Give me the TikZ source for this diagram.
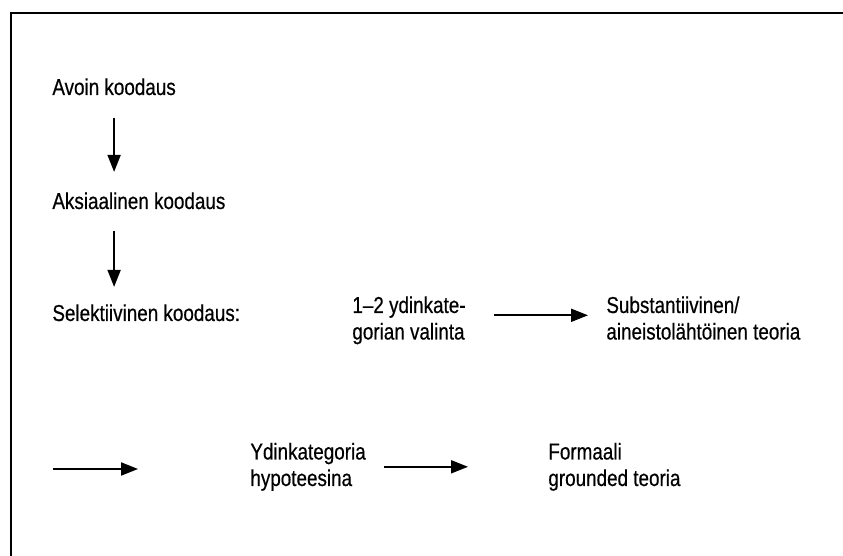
\documentclass[tikz,border=0pt]{standalone}
\usepackage{fontspec}
\setmainfont{Liberation Sans}[FakeStretch=0.82, FakeBold=0.5]
\usetikzlibrary{arrows.meta,positioning}

\begin{document}
\begin{tikzpicture}[
  x=0.5pt, y=-0.5pt,
  font=\fontsize{11.5pt}{13.25pt}\selectfont,
  lbl/.style={inner sep=0pt, anchor=base west, align=left},
  ar/.style={-{Triangle[length=8.5pt, width=6.5pt]}, line width=0.9pt},
  rule/.style={line width=0.9pt}
]
\useasboundingbox (0,0) rectangle (843,556);
% frame, open to the right and bottom
\draw[rule] (11,556) -- (11,13) -- (843,13);

% coding steps
\node[lbl] (avoin) at (52,95) {Avoin koodaus};
\node[lbl] (aks) at (52,209) {Aksiaalinen koodaus};
\node[lbl] (sel) at (52,321) {Selektiivinen koodaus:};
\node[lbl] (valinta) at (352,339.5) {1--2 ydinkate-\\gorian valinta};
\node[lbl] (subst) at (606,339.5) {Substantiivinen/\\aineistolähtöinen teoria};

% second row
\coordinate (jatko) at (53,469);
\node[lbl] (ydin) at (250,486) {Ydinkategoria\\hypoteesina};
\node[lbl] (formaali) at (548,486) {Formaali\\grounded teoria};

\draw[ar, shorten <=11pt, shorten >=10pt] (avoin.south) -- (avoin.south |- aks.north);
\draw[ar, shorten <=10.5pt, shorten >=8.5pt] (avoin.south |- aks.south) -- (avoin.south |- sel.north);
\draw[ar, shorten <=14pt, shorten >=9pt] ([yshift=2.5pt]valinta.east) -- ([yshift=2.5pt]valinta.east -| subst.west);
\draw[ar, shorten >=56pt] (jatko) -- (jatko -| ydin.west);
\draw[ar, shorten <=9pt, shorten >=40pt] (ydin.east) -- (ydin.east -| formaali.west);
\end{tikzpicture}
\end{document}
